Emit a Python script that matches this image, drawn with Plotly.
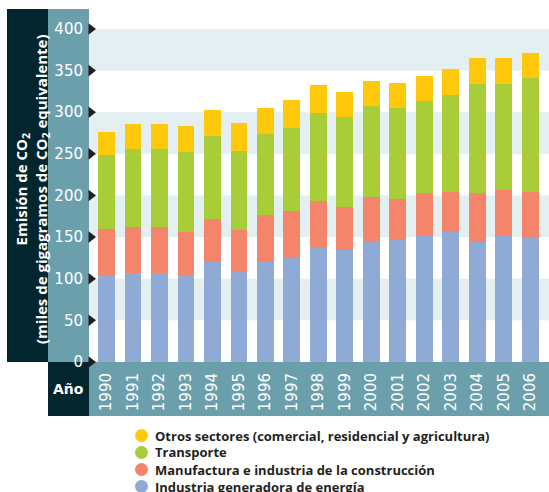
import plotly.graph_objects as go

# Emisiones de gases de efecto invernadero por sector (miles de Gg CO2 eq.)
years = ["1990", "1991", "1992", "1993", "1994", "1995", "1996", "1997", "1998",
         "1999", "2000", "2001", "2002", "2003", "2004", "2005", "2006"]
energia = [104, 107, 107, 104, 120, 109, 120, 125, 138, 135, 144, 147, 152, 156, 144, 152, 149]
manufactura = [56, 55, 55, 52, 52, 50, 56, 56, 55, 51, 54, 49, 51, 48, 59, 55, 55]
transporte = [89, 94, 94, 96, 100, 95, 98, 100, 106, 108, 110, 109, 111, 117, 131, 127, 137]
otros = [27, 30, 30, 32, 31, 33, 31, 34, 34, 30, 30, 30, 30, 31, 31, 31, 30]

y_ticks = [0, 50, 100, 150, 200, 250, 300, 350, 400]

series = [
    ("Industria generadora de energía", energia, "#8eaad5"),
    ("Manufactura e industria de la construcción", manufactura, "#f4846a"),
    ("Transporte", transporte, "#a8cd38"),
    ("Otros sectores (comercial, residencial y agricultura)", otros, "#ffc80a"),
]

DARK = "#03262e"
TEAL = "#6c9fac"
BAND = "#e3eff1"
TEXT = "#231f20"

W, H = 549, 492
L, R, T, B = 89, 0, 9, 130
PW, PH = W - L - R, H - T - B
X_RANGE = [-0.66, 16.7]


def px_x(p):
    return (p - L) / PW


def px_y(p):
    return (H - B - p) / PH


x_idx = list(range(len(years)))

fig = go.Figure()
for name, vals, col in series:
    fig.add_trace(go.Bar(
        x=x_idx, y=vals, name=name, width=0.64,
        marker=dict(color=col, line=dict(width=0)),
        showlegend=False,
    ))

# small arrow heads at each y tick
fig.add_trace(go.Scatter(
    x=[X_RANGE[0] + 0.075] * len(y_ticks), y=y_ticks, mode="markers",
    marker=dict(symbol="triangle-right", size=10, color=TEXT),
    cliponaxis=False, showlegend=False, hoverinfo="skip",
))

shapes = []
# alternating horizontal bands
for lo in y_ticks[1::2]:
    shapes.append(dict(type="rect", xref="paper", yref="y", x0=0, x1=1,
                       y0=lo, y1=lo + 50, fillcolor=BAND, line=dict(width=0),
                       layer="below"))


def panel(x0, x1, y0, y1, color):
    return dict(type="rect", xref="paper", yref="paper",
                x0=px_x(x0), x1=px_x(x1), y0=px_y(y1), y1=px_y(y0),
                fillcolor=color, line=dict(width=0), layer="below")


shapes += [
    panel(7, 48, 9, 362, DARK),
    panel(48, 89, 9, 362, TEAL),
    panel(89, 549, 362, 416, TEAL),
    panel(48, 89, 362, 416, DARK),
]

annotations = [
    dict(text="Emisión de CO<sub>2</sub><br>(miles de gigagramos de CO<sub>2</sub> equivalente)",
         xref="paper", yref="paper", x=px_x(32), y=px_y(189),
         textangle=-90, showarrow=False, xanchor="center", yanchor="middle",
         font=dict(family="Open Sans", size=15, color="white", weight="bold")),
    dict(text="Año", xref="paper", yref="paper", x=px_x(68), y=px_y(389),
         showarrow=False, xanchor="center", yanchor="middle",
         font=dict(family="DejaVu Sans", size=14, color="white", weight="bold")),
]

# legend rows (top to bottom)
leg_rows = list(reversed(series))
for i, (name, _, col) in enumerate(leg_rows):
    cy = 435.5 + 17 * i
    shapes.append(dict(type="circle", xref="paper", yref="paper",
                       x0=px_x(135), x1=px_x(148), y0=px_y(cy + 6.5), y1=px_y(cy - 6.5),
                       fillcolor=col, line=dict(width=0)))
    annotations.append(dict(text=name, xref="paper", yref="paper",
                            x=px_x(153), y=px_y(cy), xanchor="left", yanchor="middle",
                            showarrow=False, height=16,
                            font=dict(family="Open Sans", size=13, color=TEXT, weight="bold")))

fig.update_layout(
    width=W, height=H,
    margin=dict(l=L, r=R, t=T, b=B, pad=0),
    barmode="stack", bargap=0,
    paper_bgcolor="white", plot_bgcolor="rgba(0,0,0,0)",
    shapes=shapes, annotations=annotations,
    xaxis=dict(range=X_RANGE, tickvals=x_idx, ticktext=years, tickangle=-90,
               showgrid=False, zeroline=False, showline=False, ticks="",
               ticklabelstandoff=7,
               tickfont=dict(family="DejaVu Sans", size=15, color="white")),
    yaxis=dict(range=[0, 424], tickvals=y_ticks, showgrid=False, zeroline=False,
               showline=False, ticks="", ticklabelstandoff=5,
               tickfont=dict(family="DejaVu Sans", size=15, color="white")),
)

fig.write_html("out.html")
